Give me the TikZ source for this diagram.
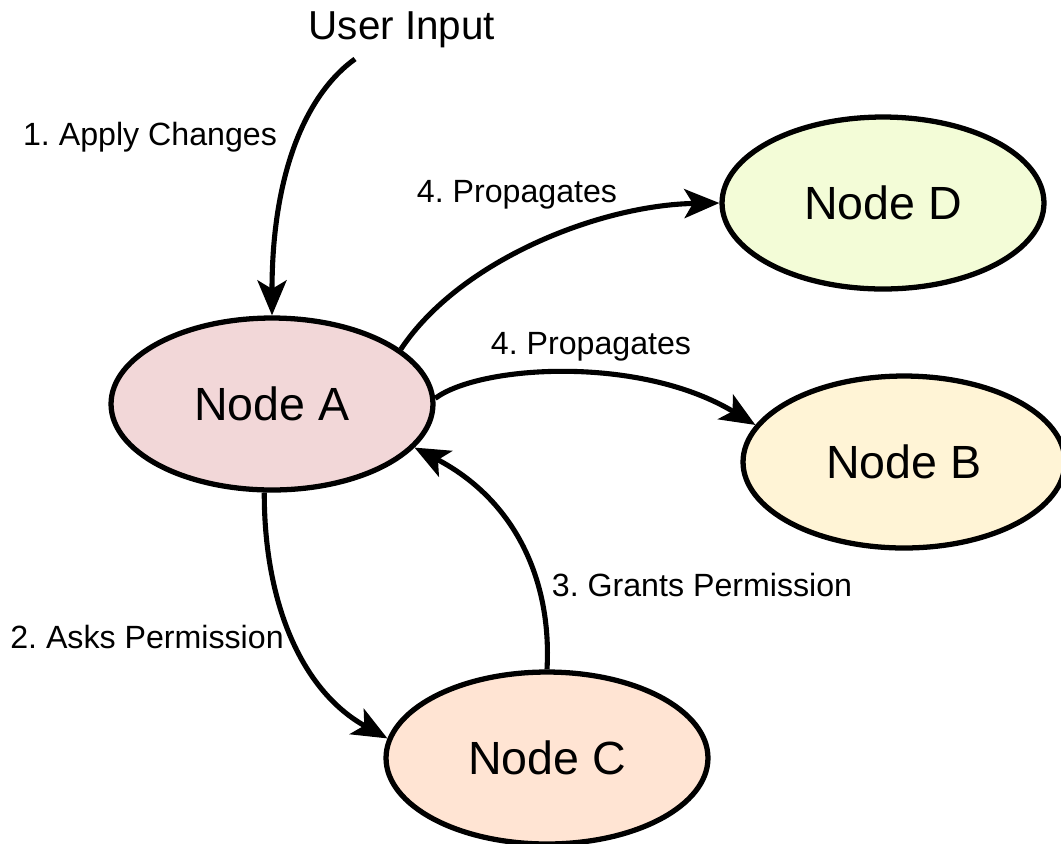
\documentclass[tikz,border=0pt]{standalone}
\usepackage{fontspec}
\setmainfont{Liberation Sans}
\usepackage{tikz}
\usetikzlibrary{shapes.geometric,arrows.meta}
\frenchspacing

\definecolor{fillA}{RGB}{242,215,216}
\definecolor{fillB}{RGB}{255,244,214}
\definecolor{fillC}{RGB}{255,228,211}
\definecolor{fillD}{RGB}{243,252,215}

\begin{document}
\begin{tikzpicture}[x=0.02cm, y=-0.02cm,
  state/.style={ellipse, draw=black, line width=3pt, minimum width=6.44cm, minimum height=3.44cm, inner sep=0pt, font=\fontsize{26.5}{30}\selectfont},
  lbl/.style={inner sep=0pt, font=\fontsize{18.3}{21}\selectfont},
  flow/.style={line width=2.9pt, -{Stealth[length=0.7cm, width=0.58cm, inset=0.17cm]}}]
\useasboundingbox (0,0) rectangle (1061,843);

\node[state, fill=fillA] (A) at (272,404) {Node A};
\node[state, fill=fillB] (B) at (904,462) {Node B};
\node[state, fill=fillC] (C) at (547,758) {Node C};
\node[state, fill=fillD] (D) at (883,203) {Node D};

\node[inner sep=0pt, font=\fontsize{23}{26}\selectfont] (ui) at (402,30) {User Input};
\coordinate (uiout) at (355,59);

\node[lbl] (l1) at (150,137) {1. Apply Changes};
\node[lbl] (l2) at (147,637) {2. Asks Permission};
\node[lbl] (l3) at (702,585) {3. Grants Permission};
\node[lbl] (l4d) at (517,195) {4. Propagates};
\node[lbl] (l4b) at (591,347) {4. Propagates};

\draw[flow] (uiout) .. controls (305,95) and (272,175) .. (A.north);
\draw[flow] (A.265) .. controls (264,600) and (300,690) .. (C.173);
\draw[flow] (C.north) .. controls (552,580) and (515,500) .. (A.343);
\draw[flow] (A.23) .. controls (460,260) and (600,205) .. (D.180);
\draw[flow] (A.2) .. controls (480,365) and (640,355) .. (B.166);
\end{tikzpicture}
\end{document}
